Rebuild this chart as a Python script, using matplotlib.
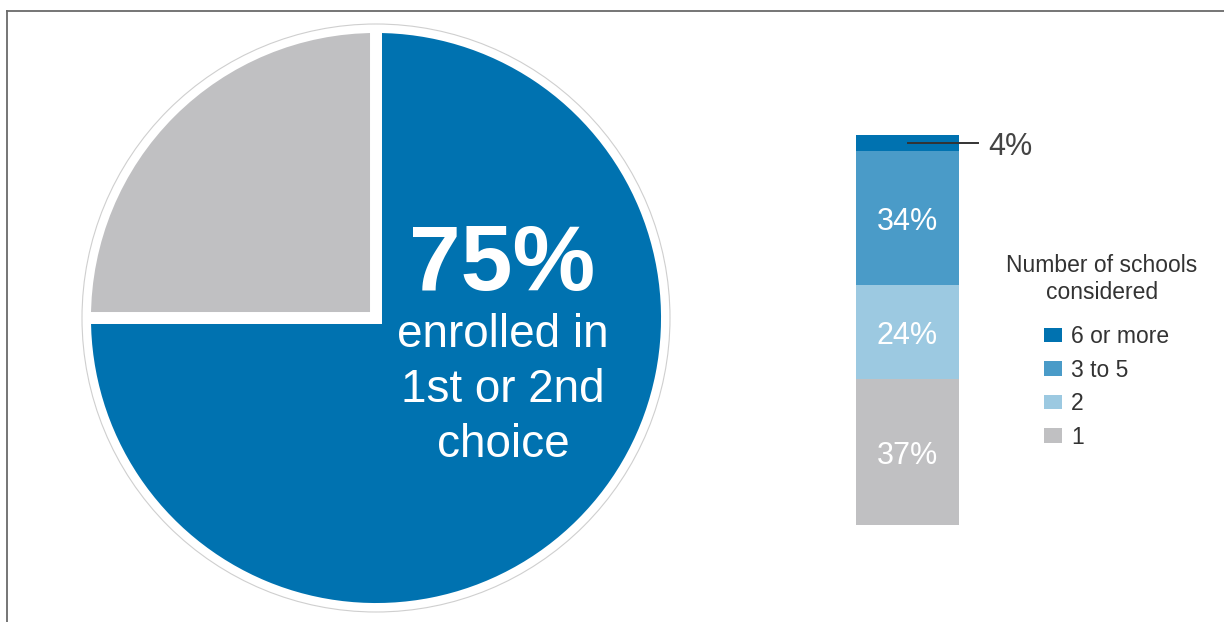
import matplotlib
matplotlib.use("Agg")
import matplotlib.pyplot as plt
from matplotlib.lines import Line2D
from matplotlib.patches import Circle

plt.rcParams["font.family"] = ["Liberation Sans", "DejaVu Sans"]

# pie: share enrolled in 1st or 2nd choice school
pie_values = [75, 25]
pie_colors = ["#0072B0", "#C0C0C2"]

# stacked bar: number of schools considered (bottom to top)
bar_labels = ["1", "2", "3 to 5", "6 or more"]
bar_values = [37, 24, 34, 4]
bar_colors = ["#C0C0C2", "#9CC9E1", "#4A9BC8", "#0072B0"]

W, H = 1224, 622
fig = plt.figure(figsize=(W / 100, H / 100), dpi=100)


def px_box(left, top, width, height):
    # pixel box (from top-left) -> figure fraction rect
    return [left / W, 1 - (top + height) / H, width / W, height / H]


# frame lines on the left and top
fig.add_artist(Line2D([7 / W, 7 / W], [0, 1 - 11 / H], color="#6a6a6a", lw=1.3,
                      transform=fig.transFigure))
fig.add_artist(Line2D([7 / W, 1], [1 - 11 / H, 1 - 11 / H], color="#6a6a6a", lw=1.3,
                      transform=fig.transFigure))

# ---- pie ----
cx, cy, half = 376, 318, 310
ax = fig.add_axes(px_box(cx - half, cy - half, 2 * half, 2 * half))
ax.pie(pie_values, colors=pie_colors, startangle=90, counterclock=False,
       radius=291, center=(0, 0),
       wedgeprops=dict(edgecolor="white", linewidth=8.6))
ax.add_patch(Circle((0, 0), 294, fill=False, edgecolor="#cfcfcf", lw=0.8))
ax.set_xlim(-half, half)
ax.set_ylim(-half, half)
ax.set_aspect("equal")
ax.axis("off")

ax.text(126, 28, f"{pie_values[0]}%", color="white", fontsize=67,
        fontweight="bold", ha="center", va="baseline")
for txt, base in [("enrolled in", -29), ("1st or 2nd", -84), ("choice", -139)]:
    ax.text(127, base, txt, color="white", fontsize=33, ha="center",
            va="baseline")

# ---- stacked bar ----
bx = fig.add_axes(px_box(856, 135, 103, 390))
bottom = 0
handles = []
for lab, val, col in zip(bar_labels, bar_values, bar_colors):
    b = bx.bar(0.5, val, width=1, bottom=bottom, color=col, label=lab)
    handles.append(b)
    mid = bottom + val / 2
    if val >= 10:
        bx.text(0.5, mid - 3.05, f"{val}%", color="white", fontsize=22,
                ha="center", va="baseline")
    else:
        bx.plot([0.5, 1.18], [mid, mid], color="#333333", lw=1.4,
                clip_on=False)
        bx.text(1.28, mid - 3.05, f"{val}%", color="#444444", fontsize=22,
                ha="left", va="baseline", clip_on=False)
    bottom += val
bx.set_xlim(0, 1)
bx.set_ylim(0, sum(bar_values))
bx.axis("off")

# legend
fig.text(1102 / W, 1 - 279 / H, "Number of schools\nconsidered", ha="center",
         va="center", fontsize=16.5, color="#333333", linespacing=1.2)
fig.legend(handles[::-1], bar_labels[::-1], loc="upper left",
           bbox_to_anchor=(1044 / W, 1 - 325 / H), frameon=False,
           fontsize=16.5, labelcolor="#333333", borderpad=0,
           borderaxespad=0, handlelength=0.78, handleheight=0.6,
           handletextpad=0.4, labelspacing=0.46)

fig.savefig("out.png", dpi=100)
